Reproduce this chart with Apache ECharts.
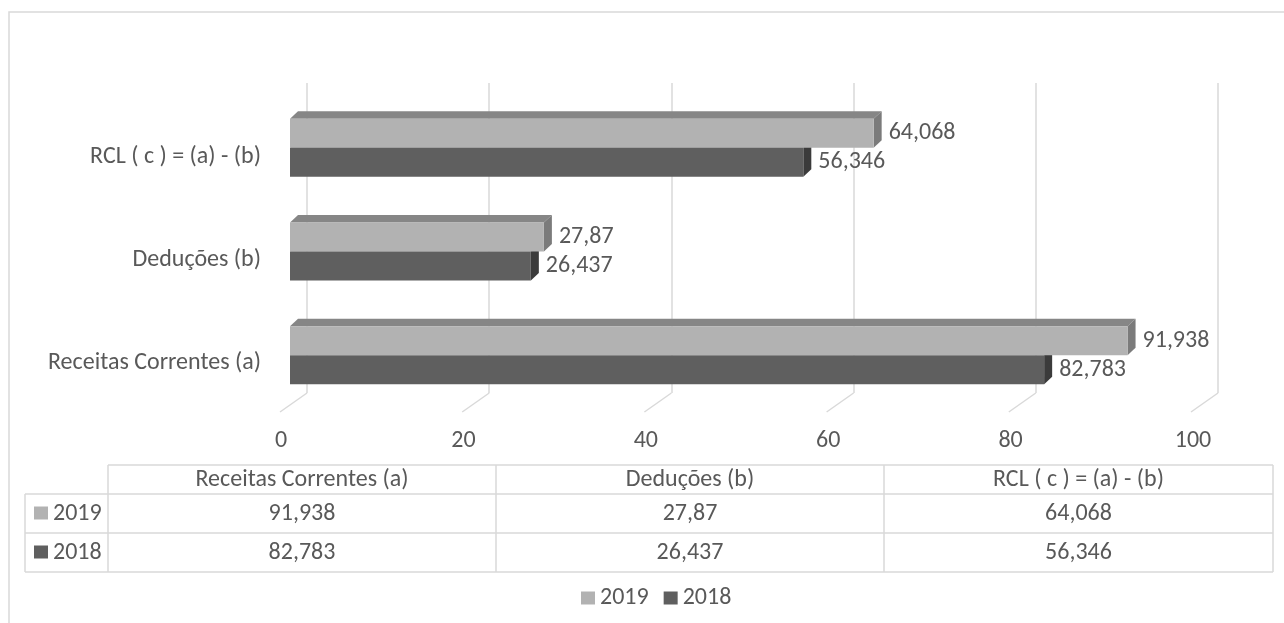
<!DOCTYPE html>
<html>
<head>
<meta charset="utf-8">
<script src="https://cdn.jsdelivr.net/npm/echarts@6/dist/echarts.min.js"></script>
<style>
  html, body { margin: 0; padding: 0; background: #fff; }
  #chart-container { width: 1284px; height: 623px; }
</style>
</head>
<body>
<div id="chart-container"></div>
<script>
var categories = ['Receitas Correntes (a)', 'Deduções (b)', 'RCL ( c ) = (a) - (b)'];
var years = ['2019', '2018'];
var values2019 = [91.938, 27.87, 64.068];
var values2018 = [82.783, 26.437, 56.346];
var xTicks = [0, 20, 40, 60, 80, 100];

var FONT = 'Carlito, Calibri, Lato, sans-serif';
var FS = 24;
var TXT = '#595959';
var LINE = '#d9d9d9';
var colors = {
    '2019': { front: '#b2b2b2', top: '#868686', side: '#7b7b7b' },
    '2018': { front: '#5f5f5f', top: '#474747', side: '#3b3b3b' }
};
var DX = 8, DY = -7.5, BAR_H = 29;

function fmt(v) { return String(v).replace('.', ','); }

var dom = document.getElementById('chart-container');
var myChart = echarts.init(dom, null, { renderer: 'canvas' });

function barRenderer(year, upper) {
    var c = colors[year];
    return function (params, api) {
        var cat = api.value(0);
        var val = api.value(1);
        var p0 = api.coord([0, cat]);
        var p1 = api.coord([val, cat]);
        var y0 = upper ? p0[1] - BAR_H : p0[1];
        var y1 = y0 + BAR_H;
        var x0 = p0[0], x1 = p1[0];
        return {
            type: 'group',
            children: [
                { type: 'polygon', shape: { points: [[x0, y0], [x0 + DX, y0 + DY], [x1 + DX, y0 + DY], [x1, y0]] }, style: { fill: c.top } },
                { type: 'polygon', shape: { points: [[x1, y0], [x1 + DX, y0 + DY], [x1 + DX, y1 + DY], [x1, y1]] }, style: { fill: c.side } },
                { type: 'rect', shape: { x: x0, y: y0, width: x1 - x0, height: BAR_H }, style: { fill: c.front } },
                { type: 'text', x: x1 + 15, y: y0 + BAR_H / 2, style: { text: fmt(val), fill: TXT, font: FS + 'px ' + FONT, align: 'left', verticalAlign: 'middle' } }
            ]
        };
    };
}

// data table drawn from the arrays
var colX = [108, 496, 884, 1273];
var rowY = [465, 494, 533, 572];
var graphics = [
    { type: 'rect', shape: { x: 9, y: 12, width: 1320, height: 700 }, style: { fill: 'none', stroke: LINE, lineWidth: 1.5 }, silent: true },
    { type: 'line', shape: { x1: colX[0], y1: rowY[0], x2: colX[3], y2: rowY[0] }, style: { stroke: LINE, lineWidth: 1.5 } }
];
for (var r = 1; r < rowY.length; r++) {
    graphics.push({ type: 'line', shape: { x1: 25, y1: rowY[r], x2: colX[3], y2: rowY[r] }, style: { stroke: LINE, lineWidth: 1.5 } });
}
graphics.push({ type: 'line', shape: { x1: 25, y1: rowY[1], x2: 25, y2: rowY[3] }, style: { stroke: LINE, lineWidth: 1.5 } });
colX.forEach(function (x) {
    graphics.push({ type: 'line', shape: { x1: x, y1: rowY[0], x2: x, y2: rowY[3] }, style: { stroke: LINE, lineWidth: 1.5 } });
});
var tableRows = [values2019, values2018];
categories.forEach(function (cat, i) {
    var cx = (colX[i] + colX[i + 1]) / 2;
    graphics.push({ type: 'text', x: cx, y: (rowY[0] + rowY[1]) / 2, style: { text: cat, fill: TXT, font: FS + 'px ' + FONT, align: 'center', verticalAlign: 'middle' } });
    tableRows.forEach(function (vals, r) {
        graphics.push({ type: 'text', x: cx, y: (rowY[r + 1] + rowY[r + 2]) / 2, style: { text: fmt(vals[i]), fill: TXT, font: FS + 'px ' + FONT, align: 'center', verticalAlign: 'middle' } });
    });
});
years.forEach(function (y, r) {
    var cy = (rowY[r + 1] + rowY[r + 2]) / 2;
    graphics.push({ type: 'rect', shape: { x: 34, y: cy - 7, width: 14, height: 13 }, style: { fill: colors[y].front } });
    graphics.push({ type: 'text', x: 53, y: cy, style: { text: y, fill: TXT, font: FS + 'px ' + FONT, align: 'left', verticalAlign: 'middle' } });
});

var option = {
    animation: false,
    textStyle: { fontFamily: FONT },
    grid: [
        { left: 290, width: 911, top: 96, height: 311 },   // front plane (bars)
        { left: 307, width: 911, top: 83, height: 310 },   // back plane (gridlines)
        { left: 281, width: 912, top: 400, height: 1 },    // tick labels
        { left: 270, width: 1, top: 105, height: 310 }     // category labels
    ],
    xAxis: [
        { gridIndex: 0, type: 'value', min: 0, max: 100, show: false },
        { gridIndex: 1, type: 'value', min: 0, max: 100, interval: 20, axisLine: { show: false }, axisTick: { show: false }, axisLabel: { show: false },
          splitLine: { show: true, lineStyle: { color: LINE, width: 1.5 } } },
        { gridIndex: 2, type: 'value', min: 0, max: 100, interval: 20, axisLine: { show: false }, axisTick: { show: false }, splitLine: { show: false },
          axisLabel: { margin: 28, color: TXT, fontSize: FS, fontFamily: FONT } },
        { gridIndex: 3, type: 'value', show: false }
    ],
    yAxis: [
        { gridIndex: 0, type: 'category', data: categories, show: false },
        { gridIndex: 1, type: 'value', min: 0, max: 1, show: false },
        { gridIndex: 2, type: 'value', show: false },
        { gridIndex: 3, type: 'category', data: categories, axisLine: { show: false }, axisTick: { show: false },
          axisLabel: { margin: 9, color: TXT, fontSize: FS, fontFamily: FONT } }
    ],
    legend: {
        data: years,
        left: 576,
        top: 581,
        icon: 'rect',
        itemWidth: 14,
        itemHeight: 13,
        itemGap: 15,
        textStyle: { color: TXT, fontSize: FS, fontFamily: FONT }
    },
    series: [
        {
            type: 'custom', name: 'floor', xAxisIndex: 1, yAxisIndex: 1, silent: true,
            data: xTicks.map(function (t) { return [t, 0]; }),
            renderItem: function (params, api) {
                var p = api.coord([api.value(0), 0]);
                return { type: 'line', shape: { x1: p[0], y1: p[1], x2: p[0] - 27, y2: p[1] + 19 }, style: { stroke: LINE, lineWidth: 1.5 } };
            }
        },
        {
            type: 'custom', name: '2018', xAxisIndex: 0, yAxisIndex: 0, z: 3,
            itemStyle: { color: colors['2018'].front },
            data: values2018.map(function (v, i) { return [i, v]; }),
            encode: { x: 1, y: 0 },
            renderItem: barRenderer('2018', false)
        },
        {
            type: 'custom', name: '2019', xAxisIndex: 0, yAxisIndex: 0, z: 4,
            itemStyle: { color: colors['2019'].front },
            data: values2019.map(function (v, i) { return [i, v]; }),
            encode: { x: 1, y: 0 },
            renderItem: barRenderer('2019', true)
        }
    ],
    graphic: graphics
};

myChart.setOption(option);
window.addEventListener('resize', myChart.resize);
</script>
</body>
</html>
